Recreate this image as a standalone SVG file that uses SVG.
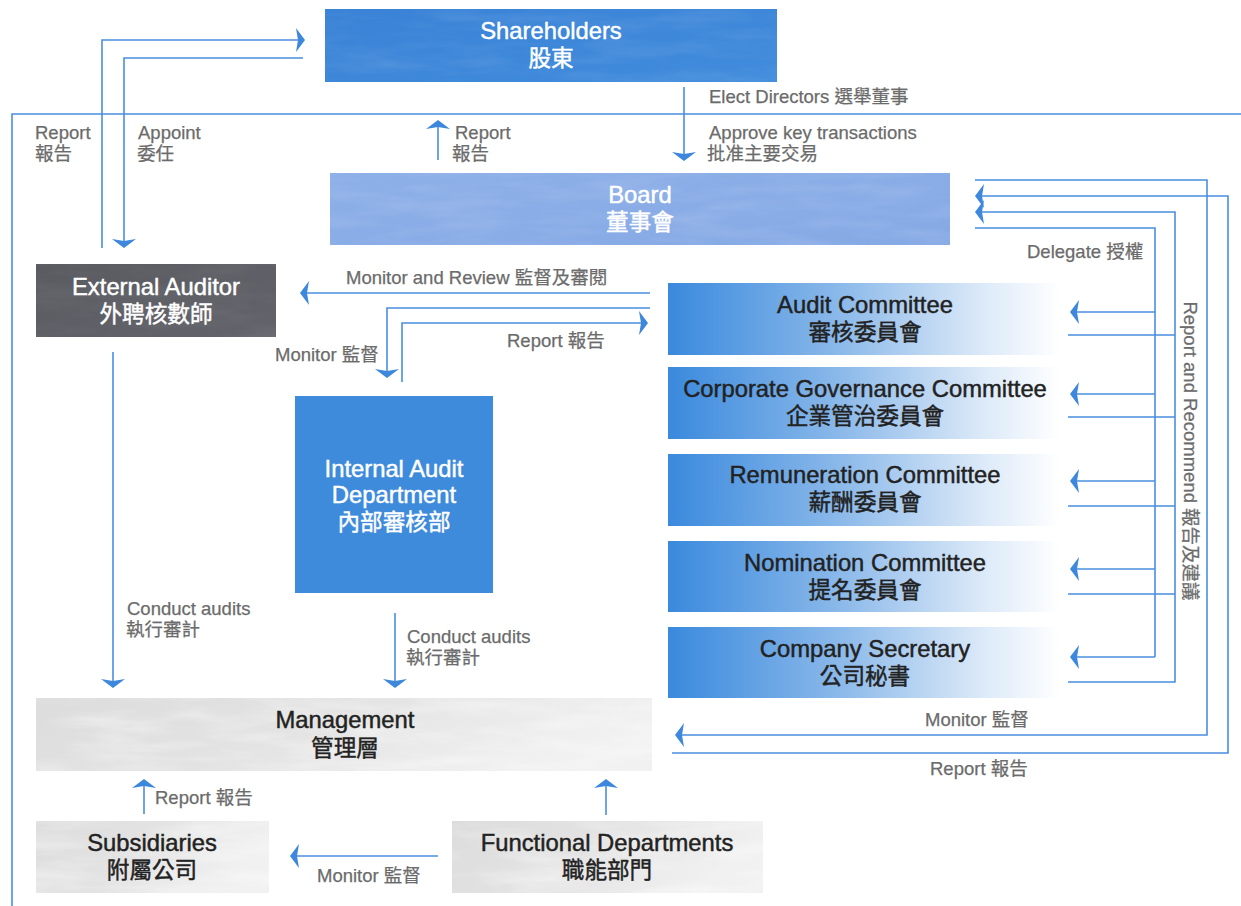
<svg xmlns="http://www.w3.org/2000/svg" width="1241" height="906" viewBox="0 0 1241 906">
<style>
.t{font-family:"Liberation Sans","Noto Sans CJK TC",sans-serif;font-size:23.8px;text-anchor:middle;stroke-width:0.45px}
.k{font-size:22.6px}
.w{fill:#ffffff;stroke:#ffffff}
.d{fill:#222222;stroke:#222222}
.l{font-family:"Liberation Sans","Noto Sans CJK TC",sans-serif;font-size:18.5px;fill:#6b6b6b;stroke:#6b6b6b;stroke-width:0.25px}
.c{fill:none;stroke:#4a8fe0;stroke-width:1.6}
.a{marker-end:url(#ah)}
</style>
<defs>
<marker id="ah" markerUnits="userSpaceOnUse" markerWidth="20" markerHeight="30" refX="10" refY="15" orient="auto" overflow="visible">
<path d="M12,15 L3,3 L5,15 L3,27 Z" fill="#3d88dc"/>
</marker>
<linearGradient id="cg" x1="0" y1="0" x2="1" y2="0">
<stop offset="0" stop-color="#3a89dd"/>
<stop offset="0.45" stop-color="#8dbaea"/>
<stop offset="0.8" stop-color="#dbe9f8"/>
<stop offset="1" stop-color="#ffffff"/>
</linearGradient>
<linearGradient id="gg" x1="0" y1="0" x2="1" y2="0.3">
<stop offset="0" stop-color="#dcdcdc"/>
<stop offset="0.5" stop-color="#e3e3e3"/>
<stop offset="1" stop-color="#f1f1f1"/>
</linearGradient>
<linearGradient id="sg" x1="0" y1="0" x2="1" y2="1">
<stop offset="0" stop-color="#3a82d6"/>
<stop offset="1" stop-color="#418cdc"/>
</linearGradient>
<linearGradient id="bg" x1="0" y1="0" x2="1" y2="1">
<stop offset="0" stop-color="#8eb0e8"/>
<stop offset="1" stop-color="#86a9e5"/>
</linearGradient>
<linearGradient id="eg" x1="0" y1="0" x2="1" y2="1">
<stop offset="0" stop-color="#5a5a61"/>
<stop offset="1" stop-color="#63646b"/>
</linearGradient>
<filter id="tex" x="0" y="0" width="100%" height="100%">
<feTurbulence type="fractalNoise" baseFrequency="0.012 0.07" numOctaves="4" seed="7"/>
<feColorMatrix type="matrix" values="0 0 0 0 1  0 0 0 0 1  0 0 0 0 1  0 0 0 1.4 -0.55"/>
<feComposite in2="SourceGraphic" operator="in"/>
</filter>
</defs>

<g id="connectors">
<path class="c" d="M12,906 V114 H1241" stroke-width="2.6"/>
<path class="c a" d="M102,248 V40 H303"/>
<path class="c a" d="M303,58 H124 V246"/>
<path class="c a" d="M684,87 V159"/>
<path class="c a" d="M438,160 V122"/>
<path class="c a" d="M975,180 H1207 V735 H677"/>
<path class="c a" d="M672,753 H1228 V196 H977"/>
<path class="c" d="M975,228 H1155 V657"/>
<path class="c a" d="M1155,312 H1072"/>
<path class="c a" d="M1155,394 H1072"/>
<path class="c a" d="M1155,481 H1072"/>
<path class="c a" d="M1155,569 H1072"/>
<path class="c a" d="M1155,657 H1072"/>
<path class="c" d="M1068,335 H1175 M1068,417 H1175 M1068,506 H1175 M1068,594 H1175"/>
<path class="c a" d="M1068,682 H1175 V212 H977"/>
<path class="c a" d="M650,293 H302"/>
<path class="c a" d="M650,308 H387 V376"/>
<path class="c a" d="M402,382 V323 H646"/>
<path class="c a" d="M113,352 V686"/>
<path class="c a" d="M395,613 V686"/>
<path class="c a" d="M144,814 V781"/>
<path class="c a" d="M606,815 V781"/>
<path class="c a" d="M438,856 H292"/>
</g>

<g id="labels">
<text class="l" x="35" y="139">Report</text>
<text class="l" x="35" y="160">報告</text>
<text class="l" x="138" y="139">Appoint</text>
<text class="l" x="137" y="160">委任</text>
<text class="l" x="455" y="139">Report</text>
<text class="l" x="452" y="160">報告</text>
<text class="l" x="709" y="103">Elect Directors 選舉董事</text>
<text class="l" x="709" y="139">Approve key transactions</text>
<text class="l" x="707" y="160">批准主要交易</text>
<text class="l" x="1027" y="258">Delegate 授權</text>
<text class="l" x="346" y="284">Monitor and Review 監督及審閱</text>
<text class="l" x="275" y="361">Monitor 監督</text>
<text class="l" x="507" y="347">Report 報告</text>
<text class="l" x="127" y="615">Conduct audits</text>
<text class="l" x="126" y="636">執行審計</text>
<text class="l" x="407" y="643">Conduct audits</text>
<text class="l" x="406" y="664">執行審計</text>
<text class="l" x="925" y="726">Monitor 監督</text>
<text class="l" x="930" y="775">Report 報告</text>
<text class="l" x="155" y="804">Report 報告</text>
<text class="l" x="317" y="882">Monitor 監督</text>
<text class="l" transform="translate(1184,451) rotate(90)" text-anchor="middle">Report and Recommend 報告及建議</text>
</g>

<g id="shareholders">
<rect x="325" y="9" width="452" height="73" fill="url(#sg)"/>
<rect x="325" y="9" width="452" height="73" fill="#ffffff" filter="url(#tex)" opacity="0.12"/>
<text class="t w" x="551" y="39">Shareholders</text>
<text class="t k w" x="551" y="66">股東</text>
</g>

<g id="board">
<rect x="330" y="173" width="620" height="72" fill="url(#bg)"/>
<rect x="330" y="173" width="620" height="72" fill="#ffffff" filter="url(#tex)" opacity="0.15"/>
<text class="t w" x="640" y="203">Board</text>
<text class="t k w" x="640" y="230">董事會</text>
</g>

<g id="external-auditor">
<rect x="36" y="264" width="240" height="73" fill="url(#eg)"/>
<rect x="36" y="264" width="240" height="73" fill="#ffffff" filter="url(#tex)" opacity="0.08"/>
<text class="t w" x="156" y="295">External Auditor</text>
<text class="t k w" x="156" y="322">外聘核數師</text>
</g>

<g id="internal-audit">
<rect x="295" y="396" width="198" height="197" fill="#3f8bdb"/>
<text class="t w" x="394" y="477">Internal Audit</text>
<text class="t w" x="394" y="503">Department</text>
<text class="t k w" x="394" y="530">內部審核部</text>
</g>

<g id="audit-committee">
<rect x="668" y="283" width="392" height="72" fill="url(#cg)"/>
<text class="t d" x="865" y="313">Audit Committee</text>
<text class="t k d" x="865" y="340">審核委員會</text>
</g>

<g id="cg-committee">
<rect x="668" y="367" width="392" height="72" fill="url(#cg)"/>
<text class="t d" x="865" y="397">Corporate Governance Committee</text>
<text class="t k d" x="865" y="424">企業管治委員會</text>
</g>

<g id="remuneration-committee">
<rect x="668" y="454" width="392" height="72" fill="url(#cg)"/>
<text class="t d" x="865" y="483">Remuneration Committee</text>
<text class="t k d" x="865" y="510">薪酬委員會</text>
</g>

<g id="nomination-committee">
<rect x="668" y="541" width="392" height="71" fill="url(#cg)"/>
<text class="t d" x="865" y="571">Nomination Committee</text>
<text class="t k d" x="865" y="598">提名委員會</text>
</g>

<g id="company-secretary">
<rect x="668" y="627" width="392" height="71" fill="url(#cg)"/>
<text class="t d" x="865" y="657">Company Secretary</text>
<text class="t k d" x="865" y="684">公司秘書</text>
</g>

<g id="management">
<rect x="36" y="698" width="616" height="73" fill="url(#gg)"/>
<rect x="36" y="698" width="616" height="73" fill="#ffffff" filter="url(#tex)" opacity="0.55"/>
<text class="t d" x="345" y="728">Management</text>
<text class="t k d" x="345" y="756">管理層</text>
</g>

<g id="subsidiaries">
<rect x="36" y="821" width="233" height="72" fill="url(#gg)"/>
<rect x="36" y="821" width="233" height="72" fill="#ffffff" filter="url(#tex)" opacity="0.55"/>
<text class="t d" x="152" y="851">Subsidiaries</text>
<text class="t k d" x="152" y="878">附屬公司</text>
</g>

<g id="functional-departments">
<rect x="452" y="821" width="311" height="72" fill="url(#gg)"/>
<rect x="452" y="821" width="311" height="72" fill="#ffffff" filter="url(#tex)" opacity="0.55"/>
<text class="t d" x="607" y="851">Functional Departments</text>
<text class="t k d" x="607" y="878">職能部門</text>
</g>
</svg>
